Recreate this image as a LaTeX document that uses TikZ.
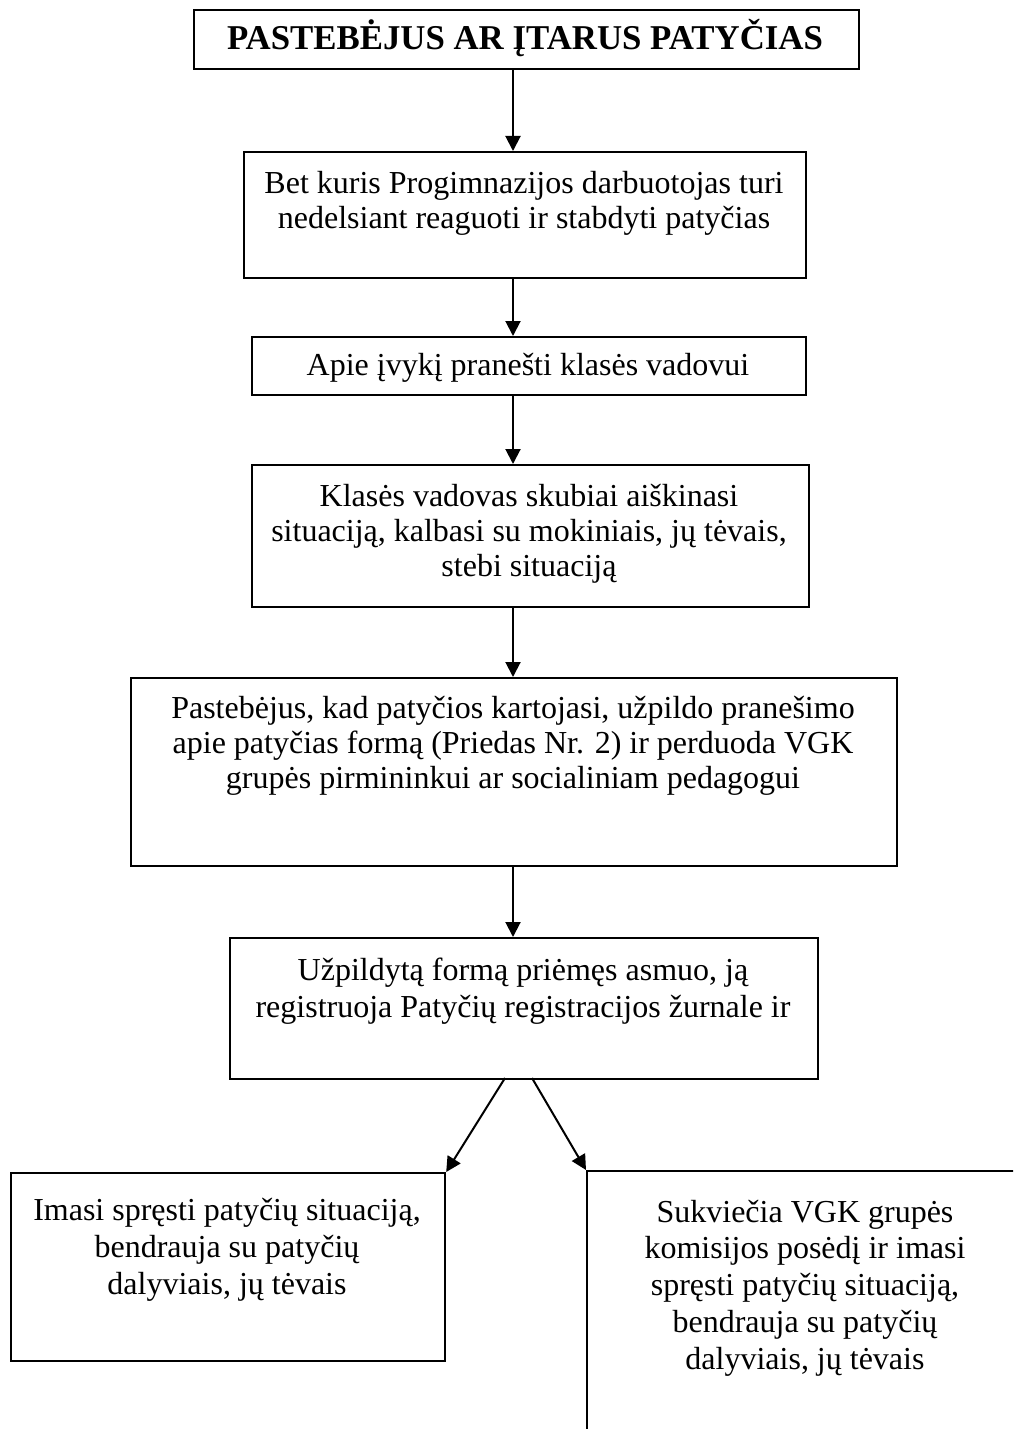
\documentclass[tikz,border=0pt]{standalone}
\usepackage{fontspec}
\setmainfont{Liberation Serif}
\usetikzlibrary{arrows.meta}
\begin{document}
\begin{tikzpicture}[x=0.5pt,y=-0.5pt,
  box/.style={draw, line width=1.1pt, inner sep=0pt, anchor=north west},
  txt/.style={anchor=base, align=center, inner sep=0pt, font=\fontsize{16}{17.5}\selectfont},
  wide/.style={font=\fontsize{16}{18.5}\selectfont},
  loose/.style={font=\fontsize{16}{18.35}\selectfont},
  arr/.style={line width=1pt, -{Triangle[length=7.5pt,width=7.5pt]}}]
\useasboundingbox (0,0) rectangle (1013,1429);
\clip (0,0) rectangle (1013,1429);
% boxes
\node[box, minimum width=332.5pt, minimum height=29.5pt] (b1) at (193,9) {};
\node[box, minimum width=281pt, minimum height=63pt] (b2) at (243,151) {};
\node[box, minimum width=277pt, minimum height=29pt] (b3) at (251,336) {};
\node[box, minimum width=278.5pt, minimum height=71pt] (b4) at (251,464) {};
\node[box, minimum width=383pt, minimum height=94pt] (b5) at (130,677) {};
\node[box, minimum width=294pt, minimum height=70.5pt] (b6) at (229,937) {};
\node[box, minimum width=217pt, minimum height=94pt] (b7) at (10,1172) {};
\node[box, minimum width=218pt, minimum height=140pt] (b8) at (586,1170) {};
% texts (anchor at the baseline of the last line)
\node[txt, font=\fontsize{17.4}{20}\selectfont\bfseries] (t1) at (525,50) {PASTEBĖJUS AR ĮTARUS PATYČIAS};
\node[txt] (t2) at (524,228) {Bet kuris Progimnazijos darbuotojas turi\\nedelsiant reaguoti ir stabdyti patyčias};
\node[txt] (t3) at (528,375) {Apie įvykį pranešti klasės vadovui};
\node[txt] (t4) at (529,576) {Klasės vadovas skubiai aiškinasi\\situaciją, kalbasi su mokiniais, jų tėvais,\\stebi situaciją};
\node[txt] (t5) at (513,788) {Pastebėjus, kad patyčios kartojasi, užpildo pranešimo\\apie patyčias formą (Priedas Nr. 2) ir perduoda VGK\\grupės pirmininkui ar socialiniam pedagogui};
\node[txt, wide] (t6) at (523,1017) {Užpildytą formą priėmęs asmuo, ją\\registruoja Patyčių registracijos žurnale ir};
\node[txt, loose] (t7) at (227,1294) {Imasi spręsti patyčių situaciją,\\bendrauja su patyčių\\dalyviais, jų tėvais};
\node[txt, loose] (t8) at (805,1369) {Sukviečia VGK grupės\\komisijos posėdį ir imasi\\spręsti patyčių situaciją,\\bendrauja su patyčių\\dalyviais, jų tėvais};
% connectors
\coordinate (ax) at (513,0);
\draw[arr] (b1.south -| ax) -- (b2.north -| ax);
\draw[arr] (b2.south -| ax) -- (b3.north -| ax);
\draw[arr] (b3.south -| ax) -- (b4.north -| ax);
\draw[arr] (b4.south -| ax) -- (b5.north -| ax);
\draw[arr] (b5.south -| ax) -- (b6.north -| ax);
\coordinate (d1) at (505,1078);
\coordinate (d2) at (532,1078);
\draw[arr] (d1) -- (b7.north east);
\draw[arr] (d2) -- (b8.north west);
\end{tikzpicture}
\end{document}
